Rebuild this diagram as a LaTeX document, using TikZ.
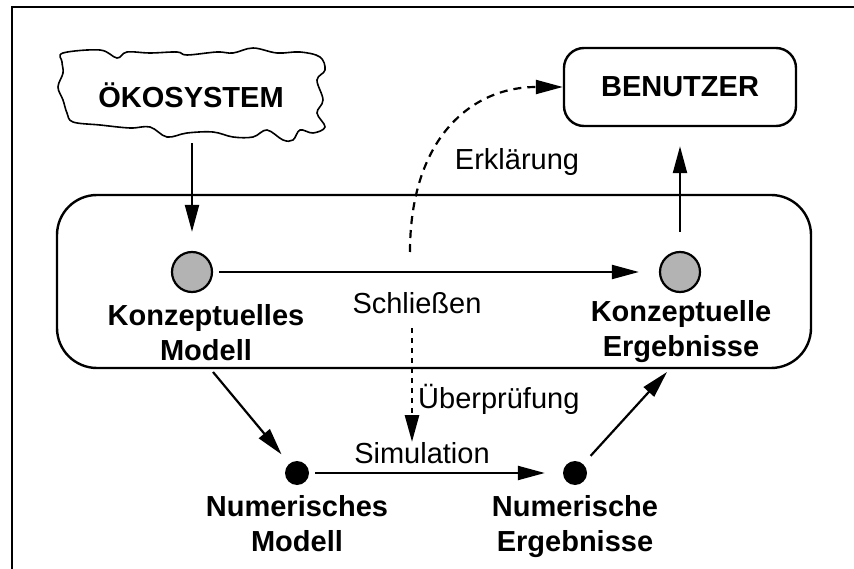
\documentclass[tikz,border=0pt]{standalone}
\usepackage{fontspec}
\setmainfont{Liberation Sans}
\usetikzlibrary{arrows.meta}
\definecolor{dotgray}{HTML}{B3B3B3}
\tikzset{
  arr/.style={line width=2.2pt,-{Triangle[length=27pt,width=14pt]}},
  lbl/.style={font=\fontsize{29}{35}\selectfont,inner sep=0pt},
  blbl/.style={font=\bfseries\fontsize{29}{35}\selectfont,inner sep=0pt,align=center},
  graydot/.style={circle,draw,line width=2.2pt,fill=dotgray,minimum size=40pt,inner sep=0pt},
  blackdot/.style={circle,fill=black,minimum size=24pt,inner sep=0pt},
  framebox/.style={draw,line width=2.4pt,rounded corners=20pt}
}
\begin{document}
\begin{tikzpicture}[x=1pt,y=-1pt]
\useasboundingbox (0,0) rectangle (854,569);
% frame (top and left)
\draw[line width=2.8pt] (854,7) -- (12,7) -- (12,569);
% wavy ecosystem outline
\draw[line width=1.6pt] plot[smooth cycle,tension=0.6] coordinates {
 (63,53) (100,50) (117,58) (127,52) (150,53) (177,52) (187,55) (217,52) (233,53) (253,48) (277,53) (300,52) (320,57)
 (325,70) (317,80) (323,100) (317,113) (325,127) (313,133) (300,130)
 (293,140) (283,140) (267,130) (253,137) (233,137) (213,132) (187,133) (167,137) (150,127) (130,128) (100,125) (73,122) (67,113)
 (63,100) (58,87) (63,73) (62,62)};
\node[blbl,minimum height=96pt,minimum width=272pt] (eco) at (191,95) {ÖKOSYSTEM};
% big rounded container
\draw[line width=2.4pt,rounded corners=40pt] (57,195) rectangle (811,368);
% benutzer
\node[framebox,blbl,minimum width=232pt,minimum height=78pt] (ben) at (680,87) {BENUTZER};
% dots
\node[graydot] (gk1) at (192,272) {};
\node[graydot] (gk2) at (680,272) {};
\node[blackdot] (nm) at (297,473) {};
\node[blackdot] (ne) at (575,473) {};
% labels
\node[blbl] (kml) at (206,333) {Konzeptuelles\\Modell};
\node[blbl] (kel) at (681,332) {Konzeptuelle\\Ergebnisse};
\node[blbl] (nml) at (297,524) {Numerisches\\Modell};
\node[blbl] (nel) at (575,527) {Numerische\\Ergebnisse};
\node[lbl,anchor=base] (schl) at (417,313) {Schließen};
\node[lbl,anchor=base] (erkl) at (517,170) {Erklärung};
\node[lbl,anchor=base west] (uebp) at (418,408) {Überprüfung};
\node[lbl,anchor=base] (sim) at (422,463) {Simulation};
% coordinates
\coordinate (a1) at (213,372);
\coordinate (a2) at (667,372);
\coordinate (c1) at (410,252);
\coordinate (c2) at (412,328);
\coordinate (c3) at (412,442);
% connectors
\draw[arr,shorten >=19pt] (gk1 |- eco.south) -- (gk1);
\draw[arr,shorten <=6pt,shorten >=20pt] (gk1) -- (gk2);
\draw[arr,shorten <=19pt,shorten >=19pt] (gk2) -- (ben);
\draw[arr,shorten >=12pt] (a1) -- (nm);
\draw[arr,shorten <=6pt,shorten >=18pt] (nm) -- (ne);
\draw[arr,shorten <=11pt] (ne) -- (a2);
\draw[arr,dash pattern=on 8pt off 6pt] (c1) .. controls (410,140) and (470,87) .. (ben.west);
\draw[arr,line width=2.8pt,dash pattern=on 5pt off 5pt] (c2) -- (c3);
\end{tikzpicture}
\end{document}
